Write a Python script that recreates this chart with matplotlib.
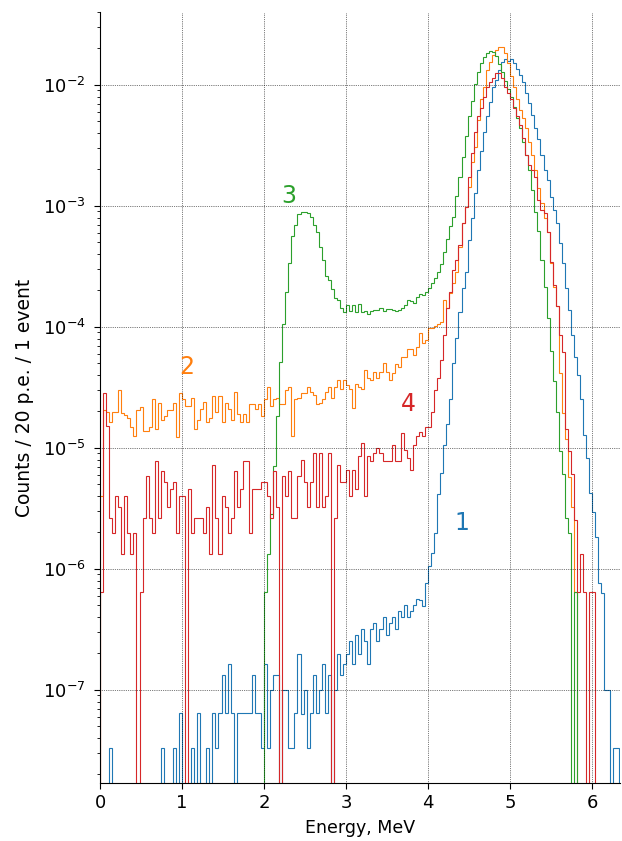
import numpy as np
import matplotlib
matplotlib.use("Agg")
import matplotlib.pyplot as plt

# histogram: 20 p.e. bins, converted to MeV
bin_width = 1 / 27.0
n_bins = 172
edges = np.arange(n_bins + 1) * bin_width

N = None  # empty bin

# log10(counts per bin)
log_blue = [
    N, N, N, -7.48, N, N, N, N, N, N,
    N, N, N, N, N, N, N, N, N, N,
    -7.48, N, N, N, -7.48, N, -7.19, N, N, N,
    -7.48, N, -7.19, N, N, -7.48, N, -7.19, -7.48, -7.19,
    -6.88, -7.19, -6.79, -7.19, N, -7.19, -7.19, -7.19, -7.19, -7.19,
    -6.88, -7.19, -7.19, -7.48, -6.79, -7.48, -7.0, -6.88, -6.88, N,
    -7.0, -7.0, -7.48, -7.48, -7.19, -6.70, -7.2, -7.0, -7.48, -7.19,
    -6.88, -7.19, -7.0, -6.79, -7.19, -6.88, N, -7.0, -6.70, -6.88,
    -6.79, -6.70, -6.60, -6.79, -6.55, -6.70, -6.50, -6.60, -6.79, -6.50,
    -6.45, -6.60, -6.50, -6.40, -6.55, -6.45, -6.40, -6.50, -6.35, -6.40,
    -6.30, -6.40, -6.35, -6.30, -6.25, -6.26, -6.31, -6.12, -5.98, -5.87,
    -5.70, -5.38, -5.21, -4.98, -4.80, -4.60, -4.30, -4.09, -3.88, -3.68,
    -3.55, -3.28, -3.10, -2.89, -2.70, -2.55, -2.39, -2.26, -2.14, -2.02,
    -1.96, -1.88, -1.81, -1.79, -1.80, -1.79, -1.82, -1.87, -1.92, -1.98,
    -2.07, -2.15, -2.25, -2.36, -2.45, -2.58, -2.70, -2.79, -2.93, -3.03,
    -3.14, -3.31, -3.47, -3.68, -3.86, -4.07, -4.25, -4.40, -4.60, -4.89,
    -5.08, -5.37, -5.53, -5.74, -6.12, -6.20, -7.0, -7.0, N, -7.48,
    -7.48, N,
]

log_orange = [
    -5.40, -4.69, -4.70, -4.79, -4.70, -4.70, -4.52, -4.71, -4.73, -4.75,
    -4.83, -4.90, -4.69, -4.66, -4.86, -4.86, -4.83, -4.60, -4.84, -4.63,
    -4.77, -4.74, -4.69, -4.69, -4.63, -4.91, -4.55, -4.60, -4.65, -4.65,
    -4.59, -4.84, -4.77, -4.68, -4.62, -4.79, -4.75, -4.57, -4.70, -4.57,
    -4.79, -4.63, -4.68, -4.77, -4.54, -4.72, -4.79, -4.72, -4.79, -4.64,
    -4.64, -4.68, -4.64, -4.74, -4.60, -4.50, -4.65, -4.60, -4.59, -4.64,
    -4.64, -4.52, -4.50, -4.90, -4.60, -4.59, -4.55, -4.55, -4.50, -4.54,
    -4.56, -4.64, -4.63, -4.60, -4.54, -4.50, -4.59, -4.50, -4.44, -4.51,
    -4.44, -4.48, -4.51, -4.67, -4.47, -4.50, -4.51, -4.36, -4.42, -4.44,
    -4.37, -4.42, -4.37, -4.30, -4.37, -4.44, -4.38, -4.31, -4.33, -4.25,
    -4.25, -4.18, -4.18, -4.23, -4.17, -4.05, -4.13, -4.11, -4.01, -4.01,
    -3.99, -3.98, -3.96, -3.78, -3.84, -3.72, -3.64, -3.55, -3.34, -3.14,
    -3.01, -2.84, -2.64, -2.51, -2.29, -2.12, -2.02, -1.88, -1.81, -1.75,
    -1.71, -1.69, -1.69, -1.74, -1.82, -1.93, -2.02, -2.12, -2.21, -2.27,
    -2.36, -2.47, -2.58, -2.70, -2.85, -2.98, -3.10, -3.22, -3.47, -3.67,
    -3.83, -4.38, -4.71, -4.93, -5.24, -5.49, -6.19, N, N, N,
    N, N, N, N, N, N, N, N, N, N,
    N, N,
]

log_green = [N] * 54 + [
    -6.19, -5.88, -5.55, -5.15, -4.74, -4.29,
    -3.98, -3.71, -3.47, -3.25, -3.16, -3.07, -3.05, -3.05, -3.06, -3.09,
    -3.16, -3.22, -3.34, -3.45, -3.58, -3.61, -3.69, -3.76, -3.78, -3.84,
    -3.88, -3.82, -3.87, -3.82, -3.88, -3.81, -3.88, -3.87, -3.89, -3.87,
    -3.86, -3.86, -3.84, -3.87, -3.85, -3.85, -3.86, -3.87, -3.86, -3.84,
    -3.82, -3.78, -3.79, -3.80, -3.75, -3.73, -3.74, -3.71, -3.68, -3.64,
    -3.60, -3.55, -3.48, -3.38, -3.27, -3.17, -3.09, -2.92, -2.76, -2.60,
    -2.42, -2.26, -2.13, -1.99, -1.89, -1.82, -1.77, -1.74, -1.72, -1.73,
    -1.76, -1.83, -1.89, -1.97, -2.03, -2.10, -2.18, -2.27, -2.36, -2.47,
    -2.58, -2.70, -2.87, -3.05, -3.21, -3.45, -3.67, -3.93, -4.20, -4.45,
    -4.70, -5.03, -5.22, -5.58, -5.70, N, -6.19, N, N, N,
    N, N, N, N, N, N, N, N, N, N,
    N, N,
]

log_red = [
    -6.19, -4.55, -4.82, -5.58, -5.70, -5.40, -5.49, -5.88, -5.40, -5.70,
    -5.88, -5.70, N, -6.19, -5.58, -5.23, -5.58, -5.70, -5.11, -5.58,
    -5.19, -5.28, -5.49, -5.34, -5.28, -5.70, -5.40, -5.40, N, -5.34,
    -5.70, -5.58, -5.58, -5.58, -5.70, -5.49, -5.88, -5.14, -5.58, -5.88,
    -5.40, -5.49, -5.70, -5.58, -5.19, -5.49, -5.34, -5.11, -5.11, -5.70,
    -5.34, -5.34, -5.34, -5.28, -5.28, -5.40, -5.58, -5.19, -5.49, N,
    -5.23, -5.40, -5.19, -5.58, -5.58, -5.23, -5.10, -5.28, -5.49, -5.28,
    -5.04, -5.49, -5.04, -5.49, -5.40, -5.04, N, -5.58, -5.14, -5.28,
    -5.28, -5.18, -5.40, -5.18, -5.34, -5.07, -4.96, -5.40, -5.07, -5.11,
    -5.04, -5.00, -5.04, -5.11, -5.11, -5.11, -4.98, -5.11, -5.11, -4.88,
    -5.02, -5.08, -5.18, -4.98, -4.90, -4.87, -4.90, -4.83, -4.83, -4.70,
    -4.52, -4.42, -4.27, -4.07, -3.84, -3.71, -3.53, -3.45, -3.32, -3.14,
    -3.01, -2.76, -2.56, -2.39, -2.26, -2.19, -2.10, -2.02, -1.98, -1.94,
    -1.90, -1.90, -1.94, -2.02, -2.07, -2.12, -2.19, -2.26, -2.33, -2.44,
    -2.58, -2.66, -2.70, -2.76, -2.95, -3.03, -3.06, -3.22, -3.46, -3.65,
    -3.83, -4.07, -4.21, -4.84, -5.03, -5.22, -5.60, -6.19, -5.88, -6.19,
    N, -6.19, -6.19, N, N, N, N, N, N, N,
    N, N,
]

series = [
    ("1", log_blue, "tab:blue", 4.41, 2.4e-6),
    ("2", log_orange, "tab:orange", 1.06, 4.7e-5),
    ("3", log_green, "tab:green", 2.30, 1.2e-3),
    ("4", log_red, "tab:red", 3.76, 2.3e-5),
]


def to_counts(logs):
    return np.array([0.0 if v is None else 10.0 ** v for v in logs])


fig = plt.figure(figsize=(6.22, 8.41), dpi=100)
ax = fig.add_axes([0.1608, 0.069, 0.836, 0.9167])

for name, logs, color, tx, ty in series:
    ax.stairs(to_counts(logs), edges, color=color, linewidth=0.8)
    ax.text(tx, ty, name, color=color, fontsize=17, ha="center", va="center")

ax.set_yscale("log")
ax.set_xlim(0, 6.34)
ax.set_ylim(1.7e-8, 4.0e-2)
ax.set_xticks(range(7))
ax.grid(True, which="major", color="k", linestyle=":", linewidth=0.5)
ax.spines["top"].set_visible(False)
ax.spines["right"].set_visible(False)
ax.tick_params(labelsize=13, length=4.5)
ax.tick_params(axis="y", pad=6)
ax.tick_params(which="minor", length=2.5)
ax.set_xlabel("Energy, MeV", fontsize=12.5, labelpad=5)
ax.set_ylabel("Counts / 20 p.e. / 1 event", fontsize=13.5, labelpad=6)

fig.savefig("out.png", dpi=100)
